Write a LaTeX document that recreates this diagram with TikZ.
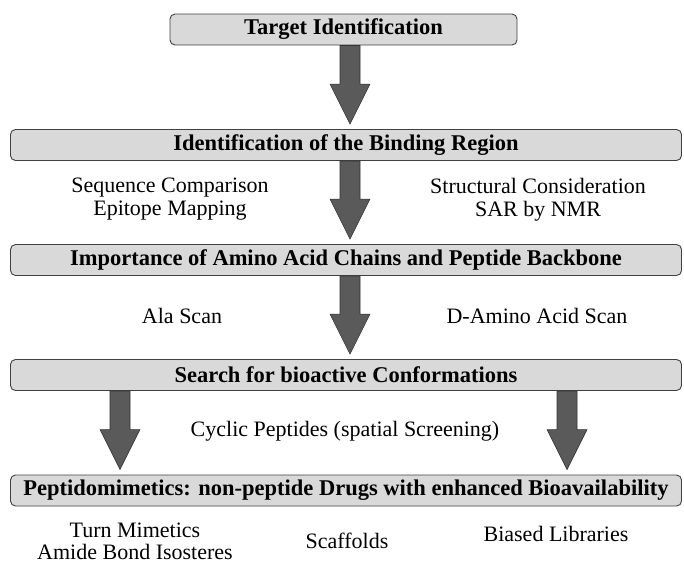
\documentclass[tikz,border=0pt]{standalone}
\usepackage{fontspec}
\setmainfont{Liberation Serif}
\usetikzlibrary{calc}
\definecolor{boxfill}{HTML}{D9D9D9}
\definecolor{boxline}{HTML}{404040}
\definecolor{arrfill}{HTML}{5A5A5A}
\definecolor{arrline}{HTML}{333333}
\tikzset{
  stage/.style={draw=boxline, fill=boxfill, line width=0.9pt, rounded corners=5pt,
    minimum height=31pt, inner sep=0pt, font=\fontsize{22.5}{24}\selectfont\bfseries},
  lbl/.style={align=center, inner sep=0pt, font=\fontsize{22}{22}\selectfont},
  blk/.style={draw=arrline, fill=arrfill, line width=0.6pt, line join=miter}
}
\newcommand\blockarr[3]{%
  \draw[blk] let \p1=(#1 |- #2.south), \p2=(#1 |- #3.north) in
   (\x1-10pt,\y1) -- (\x1+10pt,\y1) -- (\x1+10pt,\y2+45pt) -- (\x1+20pt,\y2+45pt)
   -- (\x1,\y2+5pt) -- (\x1-20pt,\y2+45pt) -- (\x1-10pt,\y2+45pt) -- cycle;}
\begin{document}
\begin{tikzpicture}[x=1pt,y=-1pt]
\useasboundingbox (0,0) rectangle (684,565);
\node[stage, minimum width=347pt] (s1) at (343.5,29.5) {Target Identification};
\node[stage, minimum width=671pt] (s2) at (346,145) {Identification of the Binding Region};
\node[stage, minimum width=671pt] (s3) at (346,260) {Importance of Amino Acid Chains and Peptide Backbone};
\node[stage, minimum width=671pt] (s4) at (346,375) {Search for bioactive Conformations};
\node[stage, minimum width=671pt] (s5) at (346,490.5) {Peptidomimetics: non-peptide Drugs with enhanced Bioavailability};

\coordinate (cm) at (350,0);
\coordinate (cl) at (120,0);
\coordinate (cr) at (567,0);

\blockarr{cm}{s1}{s2}
\blockarr{cm}{s2}{s3}
\blockarr{cm}{s3}{s4}
\blockarr{cl}{s4}{s5}
\blockarr{cr}{s4}{s5}

\node[lbl] (t1) at (170,199) {Sequence Comparison\\[1pt]Epitope Mapping};
\node[lbl] (t2) at (538,200) {Structural Consideration\\[1pt]SAR by NMR};
\node[lbl] (t3) at (182,316) {Ala Scan};
\node[lbl] (t4) at (537,316) {D-Amino Acid Scan};
\node[lbl] (t5) at (345,431) {Cyclic Peptides (spatial Screening)};
\node[lbl] (t6) at (135,541) {Turn Mimetics\\Amide Bond Isosteres};
\node[lbl] (t7) at (347,541) {Scaffolds};
\node[lbl] (t8) at (556,534) {Biased Libraries};
\end{tikzpicture}
\end{document}
